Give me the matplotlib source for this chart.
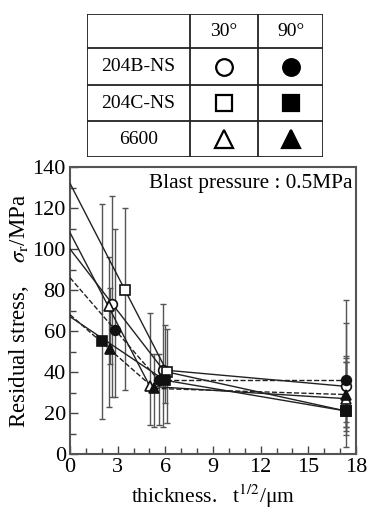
import matplotlib
matplotlib.use("Agg")
import matplotlib.pyplot as plt
from matplotlib.ticker import MultipleLocator

plt.rcParams['font.family'] = ['Liberation Serif', 'DejaVu Serif']
plt.rcParams['mathtext.fontset'] = 'stix'

# series: 204B-NS / 204C-NS / 6600 at 30 and 90 degrees
names = ['204B-NS 30', '204B-NS 90', '204C-NS 30', '204C-NS 90', '6600 30', '6600 90']
materials = ['204B-NS', '204C-NS', '6600']
angles = ['30°', '90°']
markers = ['o', 'o', 's', 's', '^', '^']
filled = [False, True, False, True, False, True]
styles = ['-', '--', '-', '-', '-', '--']

# fitted value at t^(1/2)=0
intercept = [100, 86, 132, 67, 108, 68]
x_pts = [[2.66, 5.87, 17.35], [2.85, 5.58, 17.35], [3.48, 6.12, 17.35],
         [2.03, 5.95, 17.35], [2.45, 5.03, 17.35], [2.5, 5.3, 17.35]]
y_pts = [[73, 41, 33], [60.5, 36, 36], [80, 40, 21],
         [55, 36, 21], [72, 33, 27], [51, 32, 29]]
err_lo = [[28, 13, 9.3], [28, 14, 3.6], [31, 15, 11.4],
          [17, 25, 13.3], [23, 14, 15.8], [44, 13, 13.3]]
err_hi = [[126, 73, 64], [110, 49, 75], [120, 61, 48],
          [122, 63, 46.8], [96, 69, 45], [81, 49, 45]]

W, H = 368, 509
fig = plt.figure(figsize=(W / 100, H / 100), dpi=100)

# ---- main plot ----
ax = fig.add_axes([70 / W, 1 - 454 / H, 286 / W, 287 / H])
for i in range(len(names)):
    xs, ys = x_pts[i], y_pts[i]
    lo = [y - l for y, l in zip(ys, err_lo[i])]
    hi = [h - y for y, h in zip(ys, err_hi[i])]
    ax.errorbar(xs, ys, yerr=[lo, hi], fmt='none', ecolor='#555555',
                elinewidth=1.0, capsize=2.5, capthick=1.0, zorder=2)
    ax.plot([0, xs[1]], [intercept[i], ys[1]], color='#222222',
            ls=styles[i], lw=1.0, zorder=3)
    ax.plot(xs[1:], ys[1:], color='#222222', ls=styles[i], lw=1.0, zorder=3)
    ax.plot(xs, ys, ls='none', marker=markers[i], ms=7.5 if markers[i] == 's' else 7,
            mfc='#111111' if filled[i] else 'white', mec='#111111', mew=1.2,
            zorder=4)

ax.set_xlim(0, 18)
ax.set_ylim(0, 140)
ax.xaxis.set_major_locator(MultipleLocator(3))
ax.xaxis.set_minor_locator(MultipleLocator(1))
ax.yaxis.set_major_locator(MultipleLocator(20))
ax.yaxis.set_minor_locator(MultipleLocator(10))
ax.tick_params(which='both', direction='in', top=False, right=False,
               labelsize=16, color='#444444', width=1.0)
ax.tick_params(which='major', length=6)
ax.tick_params(which='minor', length=4)
ax.tick_params(axis='y', which='major', pad=3)
ax.tick_params(axis='x', which='major', pad=3)
for s in ax.spines.values():
    s.set_color('#555555')
    s.set_linewidth(1.5)

ax.set_xlabel(r'thickness.   t$^{1/2}$/μm', fontsize=15.5)
ax.xaxis.set_label_coords(0.5, -0.1)
ax.set_ylabel(r'Residual stress,    $\sigma_{\rm r}$/MPa', fontsize=16.5)
ax.yaxis.set_label_coords(-0.137, 0.5)
ax.text(0.988, 0.975, 'Blast pressure : 0.5MPa', transform=ax.transAxes,
        ha='right', va='top', fontsize=15.3)

# ---- symbol table ----
tx = fig.add_axes([87 / W, 1 - 157 / H, 236 / W, 143 / H])
tx.set_xlim(87, 323)
tx.set_ylim(157, 14)
tx.axis('off')
col_edges = [87, 190, 258, 323]
row_edges = [14, 48, 85, 121, 157]
for c in col_edges:
    tx.plot([c, c], [row_edges[0], row_edges[-1]], color='#222222', lw=1.3)
for r in row_edges:
    tx.plot([col_edges[0], col_edges[-1]], [r, r], color='#222222', lw=1.3)

col_mid = [(col_edges[k] + col_edges[k + 1]) / 2 for k in range(3)]
row_mid = [(row_edges[k] + row_edges[k + 1]) / 2 for k in range(4)]
for j, a in enumerate(angles):
    tx.text(col_mid[j + 1], row_mid[0], a, ha='center', va='center', fontsize=14)
for m, mat in enumerate(materials):
    tx.text(col_mid[0], row_mid[m + 1], mat, ha='center', va='center', fontsize=14)
    for j in range(2):
        i = m * 2 + j
        tx.plot(col_mid[j + 1], row_mid[m + 1], marker=markers[i], ls='none',
                ms=12 if markers[i] != '^' else 13,
                mfc='black' if filled[i] else 'white', mec='black', mew=1.6)

fig.savefig('out.png', dpi=100)
